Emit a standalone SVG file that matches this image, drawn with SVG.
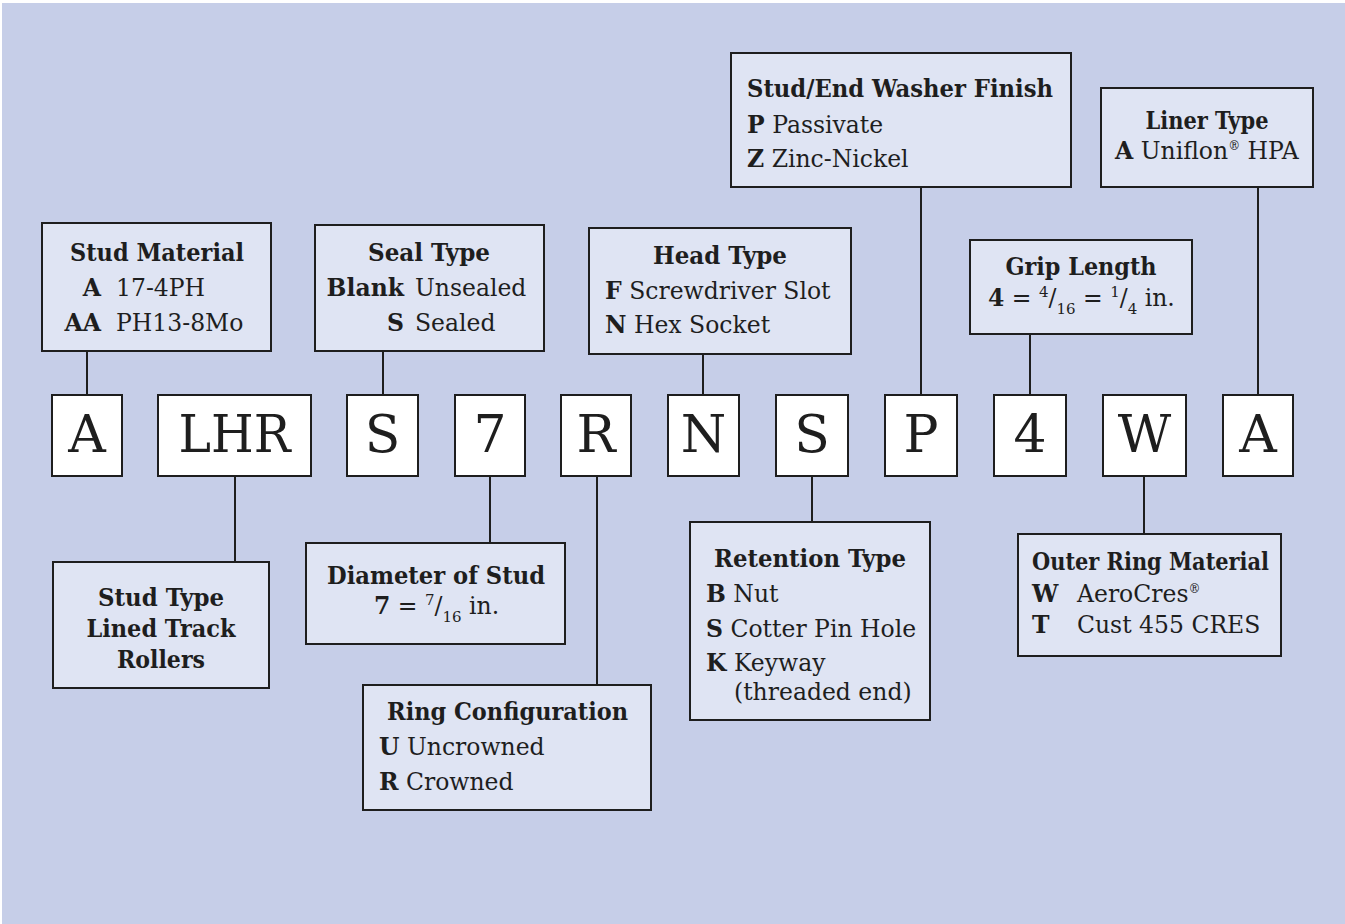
<svg xmlns="http://www.w3.org/2000/svg" width="1345" height="924" viewBox="0 0 1345 924">
<style>
.bg{fill:#c6cee8}
.box{fill:#dfe4f3;stroke:#1e1e1e;stroke-width:2}
.code{fill:#ffffff;stroke:#1e1e1e;stroke-width:2}
.ln{stroke:#1e1e1e;stroke-width:2;fill:none}
text{font-family:"DejaVu Serif","Liberation Serif",serif;fill:#1e1e1e}
.t{font-size:25px;font-weight:bold}
.r{font-size:23.5px}
.b{font-weight:bold}
.c{font-size:52px;text-anchor:middle}
.m{text-anchor:middle}
.e{text-anchor:end}
.sm{font-size:15px}
.rg{font-size:12px}
</style>
<rect x="0" y="0" width="1345" height="924" fill="#ffffff"/>
<rect class="bg" x="2" y="3" width="1343" height="921"/>
<g id="connectors">
<line class="ln" x1="87" y1="351" x2="87" y2="395"/>
<line class="ln" x1="383" y1="351" x2="383" y2="395"/>
<line class="ln" x1="703" y1="354" x2="703" y2="395"/>
<line class="ln" x1="921" y1="187" x2="921" y2="395"/>
<line class="ln" x1="1030" y1="334" x2="1030" y2="395"/>
<line class="ln" x1="1258" y1="187" x2="1258" y2="395"/>
<line class="ln" x1="235" y1="476" x2="235" y2="562"/>
<line class="ln" x1="490" y1="476" x2="490" y2="543"/>
<line class="ln" x1="597" y1="476" x2="597" y2="685"/>
<line class="ln" x1="812" y1="476" x2="812" y2="522"/>
<line class="ln" x1="1144" y1="476" x2="1144" y2="534"/>
</g>
<g id="code-A"><rect class="code" x="52" y="395" width="70" height="81"/><text class="c" x="87" y="452">A</text></g>
<g id="code-LHR"><rect class="code" x="158" y="395" width="153" height="81"/><text class="c" x="234.5" y="452" textLength="112" lengthAdjust="spacingAndGlyphs">LHR</text></g>
<g id="code-S1"><rect class="code" x="347" y="395" width="71" height="81"/><text class="c" x="382.5" y="452">S</text></g>
<g id="code-7"><rect class="code" x="455" y="395" width="70" height="81"/><text class="c" x="490" y="452">7</text></g>
<g id="code-R"><rect class="code" x="561" y="395" width="70" height="81"/><text class="c" x="596" y="452">R</text></g>
<g id="code-N"><rect class="code" x="668" y="395" width="71" height="81"/><text class="c" x="703.5" y="452">N</text></g>
<g id="code-S2"><rect class="code" x="776" y="395" width="72" height="81"/><text class="c" x="812" y="452">S</text></g>
<g id="code-P"><rect class="code" x="885" y="395" width="72" height="81"/><text class="c" x="921" y="452">P</text></g>
<g id="code-4"><rect class="code" x="994" y="395" width="72" height="81"/><text class="c" x="1030" y="452">4</text></g>
<g id="code-W"><rect class="code" x="1103" y="395" width="83" height="81"/><text class="c" x="1144.5" y="452">W</text></g>
<g id="code-A2"><rect class="code" x="1223" y="395" width="70" height="81"/><text class="c" x="1258" y="452">A</text></g>

<g id="stud-material"><rect class="box" x="42" y="223" width="229" height="128"/>
<text class="t m" x="157" y="261" textLength="174" lengthAdjust="spacingAndGlyphs">Stud Material</text>
<text class="r e b" x="101" y="296">A</text><text class="r" x="116" y="296">17-4PH</text>
<text class="r e b" x="101" y="331">AA</text><text class="r" x="116" y="331">PH13-8Mo</text></g>

<g id="seal-type"><rect class="box" x="315" y="225" width="229" height="126"/>
<text class="t m" x="429" y="261" textLength="122" lengthAdjust="spacingAndGlyphs">Seal Type</text>
<text class="r e b" x="404" y="296">Blank</text><text class="r" x="415" y="296">Unsealed</text>
<text class="r e b" x="404" y="331">S</text><text class="r" x="415" y="331">Sealed</text></g>

<g id="head-type"><rect class="box" x="589" y="228" width="262" height="126"/>
<text class="t m" x="720" y="264" textLength="134" lengthAdjust="spacingAndGlyphs">Head Type</text>
<text class="r" x="605" y="299"><tspan class="b">F</tspan> Screwdriver Slot</text>
<text class="r" x="605" y="333"><tspan class="b">N</tspan> Hex Socket</text></g>

<g id="washer-finish"><rect class="box" x="731" y="53" width="340" height="134"/>
<text class="t" x="747" y="97" textLength="306" lengthAdjust="spacingAndGlyphs">Stud/End Washer Finish</text>
<text class="r" x="747" y="133"><tspan class="b">P</tspan> Passivate</text>
<text class="r" x="747" y="167"><tspan class="b">Z</tspan> Zinc-Nickel</text></g>

<g id="liner-type"><rect class="box" x="1101" y="88" width="212" height="99"/>
<text class="t m" x="1207" y="129" textLength="123" lengthAdjust="spacingAndGlyphs">Liner Type</text>
<text class="r" x="1115" y="159"><tspan class="b">A</tspan> Uniflon<tspan class="rg" dy="-9">®</tspan><tspan dy="9"> HPA</tspan></text></g>

<g id="grip-length"><rect class="box" x="970" y="240" width="222" height="94"/>
<text class="t m" x="1081" y="275" textLength="151" lengthAdjust="spacingAndGlyphs">Grip Length</text>
<text class="r" x="988" y="306"><tspan class="b">4</tspan> = <tspan class="sm" dy="-9">4</tspan><tspan dy="9">/</tspan><tspan class="sm" dy="8">16</tspan><tspan dy="-8"> = </tspan><tspan class="sm" dy="-9">1</tspan><tspan dy="9">/</tspan><tspan class="sm" dy="8">4</tspan><tspan dy="-8"> in.</tspan></text></g>

<g id="stud-type"><rect class="box" x="53" y="562" width="216" height="126"/>
<text class="t m" x="161" y="606" textLength="126" lengthAdjust="spacingAndGlyphs">Stud Type</text>
<text class="t m" x="161" y="637" textLength="149" lengthAdjust="spacingAndGlyphs">Lined Track</text>
<text class="t m" x="161" y="668" textLength="88" lengthAdjust="spacingAndGlyphs">Rollers</text></g>

<g id="diameter"><rect class="box" x="306" y="543" width="259" height="101"/>
<text class="t m" x="436" y="584" textLength="218" lengthAdjust="spacingAndGlyphs">Diameter of Stud</text>
<text class="r" x="374" y="614"><tspan class="b">7</tspan> = <tspan class="sm" dy="-9">7</tspan><tspan dy="9">/</tspan><tspan class="sm" dy="8">16</tspan><tspan dy="-8"> in.</tspan></text></g>

<g id="ring-config"><rect class="box" x="363" y="685" width="288" height="125"/>
<text class="t m" x="507.5" y="720" textLength="241" lengthAdjust="spacingAndGlyphs">Ring Configuration</text>
<text class="r" x="379" y="755"><tspan class="b">U</tspan> Uncrowned</text>
<text class="r" x="379" y="790"><tspan class="b">R</tspan> Crowned</text></g>

<g id="retention-type"><rect class="box" x="690" y="522" width="240" height="198"/>
<text class="t m" x="810" y="567" textLength="192" lengthAdjust="spacingAndGlyphs">Retention Type</text>
<text class="r" x="706" y="602"><tspan class="b">B</tspan> Nut</text>
<text class="r" x="706" y="637"><tspan class="b">S</tspan> Cotter Pin Hole</text>
<text class="r" x="706" y="671"><tspan class="b">K</tspan> Keyway</text>
<text class="r" x="734" y="700">(threaded end)</text></g>

<g id="outer-ring"><rect class="box" x="1018" y="534" width="263" height="122"/>
<text class="t m" x="1150.5" y="570" textLength="237" lengthAdjust="spacingAndGlyphs">Outer Ring Material</text>
<text class="r b" x="1032" y="602">W</text><text class="r" x="1077" y="602">AeroCres<tspan class="rg" dy="-9">®</tspan></text>
<text class="r b" x="1032" y="633">T</text><text class="r" x="1077" y="633">Cust 455 CRES</text></g>
</svg>
